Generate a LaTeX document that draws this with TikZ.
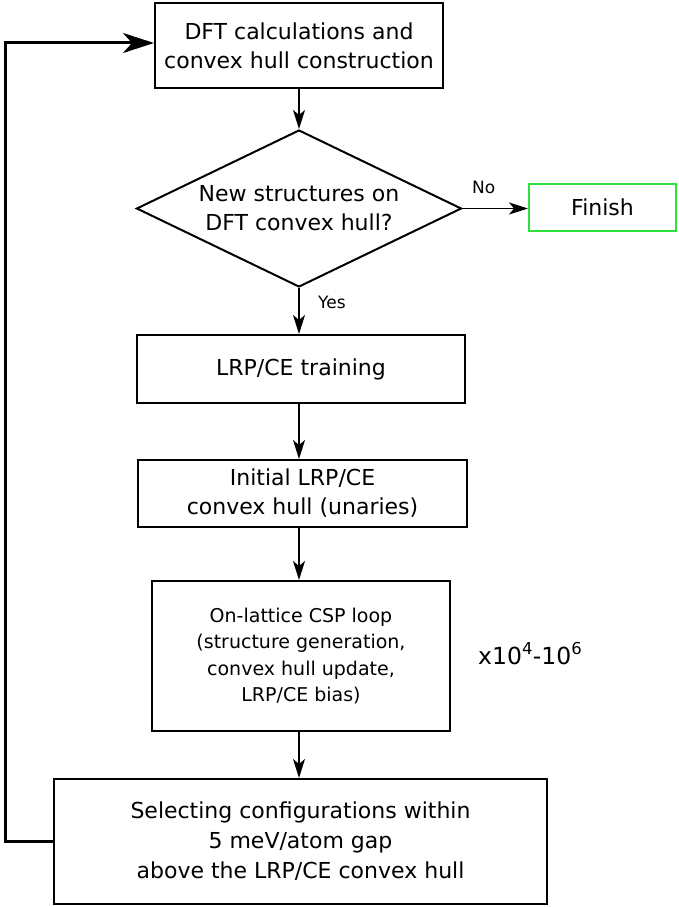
\documentclass[tikz,border=0pt]{standalone}
\usepackage{fontspec}
\setmainfont{DejaVu Sans}
\usetikzlibrary{shapes.geometric,arrows.meta}
\definecolor{fingreen}{RGB}{45,225,60}
\tikzset{
  box/.style={draw, line width=2pt, rectangle, align=center, inner sep=0pt,
    font=\fontsize{22}{29}\selectfont},
  decision/.style={draw, diamond, line width=2pt, aspect=2.1, inner sep=0pt,
    align=center, font=\fontsize{22}{29}\selectfont},
  flow/.style={-{Stealth[length=19pt,width=12pt,inset=5pt]}, line width=1.8pt},
  back/.style={-{Stealth[length=31pt,width=20pt,inset=9pt]}, line width=3pt},
  lbl/.style={font=\fontsize{17}{20}\selectfont, inner sep=0pt, anchor=base west},
}
\begin{document}
\begin{tikzpicture}[x=1pt,y=-1pt]
\useasboundingbox (0,0) rectangle (678,907);
\node[box, minimum width=288pt, minimum height=85pt] (dft) at (299,45.5)
  {DFT calculations and\\convex hull construction};
\node[decision, minimum width=325pt, minimum height=157pt] (dec) at (299,208.5)
  {New structures on\\DFT convex hull?};
\node[box, draw=fingreen, minimum width=147pt, minimum height=47pt] (fin) at (602.5,207)
  {Finish};
\node[box, minimum width=328pt, minimum height=68pt] (lrp) at (301,369)
  {LRP/CE training};
\node[box, minimum width=329pt, minimum height=67pt] (init) at (302.5,493.5)
  {Initial LRP/CE\\convex hull (unaries)};
\node[box, minimum width=298pt, minimum height=150pt, font=\fontsize{19}{26.5}\selectfont] (csp) at (301,656)
  {On-lattice CSP loop\\(structure generation,\\convex hull update,\\LRP/CE bias)};
\node[box, minimum width=493pt, minimum height=125pt, font=\fontsize{22}{30}\selectfont] (sel) at (300.5,841.5)
  {Selecting configurations within\\5 meV/atom gap\\above the LRP/CE convex hull};
\node[lbl, font=\fontsize{23.5}{26}\selectfont] (rep) at (478,664) {x10\textsuperscript{4}-10\textsuperscript{6}};
\node[lbl] (no) at (472,193) {No};
\node[lbl] (yes) at (318,308) {Yes};

\coordinate (c1) at (5,841.5);
\coordinate (c2) at (5,43);

\draw[flow] (dft.south) -- (dft.south |- dec.north);
\draw[flow] (dec.east) -- (dec.east -| fin.west);
\draw[flow] (dec.south) -- (dec.south |- lrp.north);
\draw[flow] (dec.south |- lrp.south) -- (dec.south |- init.north);
\draw[flow] (dec.south |- init.south) -- (dec.south |- csp.north);
\draw[flow] (dec.south |- csp.south) -- (dec.south |- sel.north);
\draw[back] (sel.west) -- (c1) -- (c2) -- (dft.west |- c2);
\end{tikzpicture}
\end{document}
